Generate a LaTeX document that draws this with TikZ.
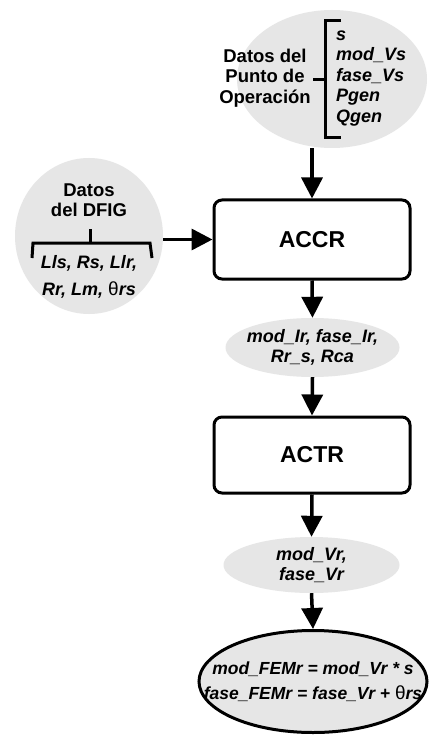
\documentclass[tikz,border=0pt]{standalone}
\usepackage{fontspec}
\setmainfont{Liberation Sans}
\usetikzlibrary{arrows.meta,shapes.geometric}
\definecolor{ellfill}{RGB}{230,230,230}
\tikzset{
  ell/.style={ellipse, fill=ellfill, inner sep=0pt},
  blk/.style={draw=black, line width=3pt, rounded corners=8pt, fill=white, inner sep=0pt,
    font=\fontsize{23}{26}\selectfont\bfseries},
  arr/.style={line width=3.5pt, -{Triangle[length=21pt,width=21pt]}},
  brk/.style={line width=3pt},
  bt/.style={font=\fontsize{18.5}{20.5}\selectfont\bfseries, align=center, inner sep=0pt},
  bi/.style={font=\fontsize{18}{20.5}\selectfont\bfseries\itshape, inner sep=0pt},
}
\newcommand{\thsym}{{\fontsize{19}{20}\selectfont\mdseries\upshape θ}}
\begin{document}
\begin{tikzpicture}[x=1pt,y=-1pt]
\useasboundingbox[fill=white] (0,0) rectangle (438,743);
% ellipses
\node[ell, minimum width=190, minimum height=138] (op) at (332,79) {};
\node[ell, minimum width=148, minimum height=156] (dfig) at (89,236) {};
\node[ell, minimum width=174, minimum height=59] (out1) at (312.5,347.5) {};
\node[ell, minimum width=176, minimum height=56] (out2) at (311.5,565) {};
\node[ell, draw=black, line width=3pt, minimum width=228, minimum height=102] (fem) at (313,681.5) {};
% boxes
\node[blk, minimum width=196, minimum height=79] (accr) at (312,239.5) {ACCR};
\node[blk, minimum width=196, minimum height=76] (actr) at (312,455) {ACTR};
% operating point
\node[bt] (optext) at (265,78) {Datos del\\Punto de\\Operación};
\node[bi, anchor=west, align=left] (oplist) at (336,78.5) {s\\mod\_Vs\\fase\_Vs\\Pgen\\Qgen};
\draw[brk] (341,21) -- (325,21) -- (325,138) -- (341,138);
\draw[brk] (313,80) -- (325,80);
% DFIG
\node[bt] (dfigtext) at (89,200) {Datos\\del DFIG};
\draw[brk] (90,229) -- (90,243);
\draw[brk] (32,258) -- (33,243) -- (150,243) -- (152,258);
\node[bi, align=center, font=\fontsize{18}{27}\selectfont\bfseries\itshape] (dfiglist) at (89,276.5) {Lls, Rs, Llr,\\Rr, Lm, \thsym rs};
% outputs
\node[bi, align=center] (out1text) at (out1) {mod\_Ir, fase\_Ir,\\Rr\_s, Rca};
\node[bi, align=center] (out2text) at (out2) {mod\_Vr,\\fase\_Vr};
\node[bi, align=center, font=\fontsize{17.5}{25}\selectfont\bfseries\itshape] (femtext) at (fem) {mod\_FEMr = mod\_Vr * s\\fase\_FEMr = fase\_Vr + \thsym rs};
% arrows
\draw[arr] (accr.north |- op.south) -- (accr.north);
\draw[arr] (dfig.east |- accr.west) -- (accr.west);
\draw[arr] (accr.south) -- (out1.north);
\draw[arr] (out1.south) -- (actr.north);
\draw[arr] (actr.south) -- (out2.north);
\draw[arr] (out2.south) -- (fem.north);
\end{tikzpicture}
\end{document}
